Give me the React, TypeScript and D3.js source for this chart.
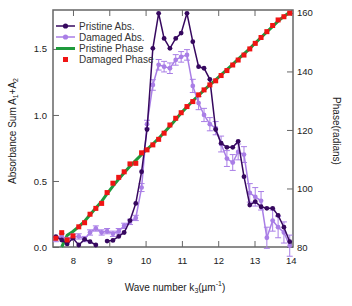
import React, { useEffect, useRef } from 'react';
import * as d3 from 'd3';

// wave number grid (k3, um^-1)
const waveNumber = [
  7.53, 7.69, 7.84, 8.0, 8.16, 8.32, 8.47, 8.63, 8.79, 8.94, 9.1, 9.26, 9.41, 9.57,
  9.73, 9.89, 10.04, 10.2, 10.36, 10.51, 10.67, 10.83, 10.98, 11.14, 11.3, 11.46,
  11.61, 11.77, 11.93, 12.08, 12.24, 12.4, 12.55, 12.71, 12.87, 13.02, 13.18, 13.34,
  13.5, 13.65, 13.81, 13.97,
];

const pristineAbs = [
  0.078, 0.053, 0.023, 0.066, 0.015, 0.058, 0.04, 0.015, null, 0.045, 0.05, 0.08,
  0.11, 0.2, 0.33, 0.57, 0.89, 1.505, 1.77, 1.58, 1.505, 1.58, 1.62, 1.77, 1.555,
  1.366, 1.354, 1.27, 0.89, 0.786, 0.755, 0.755, 0.8, 0.533, 0.318, 0.343, 0.305,
  0.293, 0.293, 0.24, 0.15, 0.04,
];

const damagedAbs = [
  0.06, 0.083, 0.053, 0.078, 0.08, 0.06, 0.11, 0.14, 0.11, 0.12, 0.1, 0.12, 0.16,
  0.19, 0.22, 0.45, 0.93, 1.227, 1.38, 1.366, 1.354, 1.417, 1.44, 1.455, 1.22, 1.09,
  1.0, 0.93, 0.9, 0.78, 0.67, 0.64, 0.72, 0.7, 0.41, 0.38, 0.35, 0.07, 0.2, 0.15,
  0.11, 0.01,
];

const damagedErr = [
  0.02, 0.02, 0.02, 0.02, 0.02, 0.02, 0.02, 0.02, 0.02, 0.02, 0.02, 0.02, 0.02,
  0.02, 0.02, 0.03, 0.03, 0.04, 0.04, 0.04, 0.04, 0.04, 0.04, 0.04, 0.05, 0.05,
  0.05, 0.05, 0.05, 0.06, 0.06, 0.06, 0.06, 0.06, 0.07, 0.07, 0.07, 0.08, 0.08,
  0.08, 0.08, 0.08,
];

const pristinePhase = [
  null, 80.0, 84.0, 85.3, 87.0, 88.8, 91.0, 93.3, 95.6, 98.2, 100.8, 103.2, 105.4,
  107.6, 109.6, 111.6, 113.4, 115.2, 117.1, 119.1, 121.3, 123.6, 125.8, 127.9, 129.9,
  131.8, 133.6, 135.4, 137.1, 138.8, 140.6, 142.4, 144.2, 146.0, 147.8, 149.7, 151.6,
  153.5, 155.4, 157.2, 158.8, 160.2,
];

const damagedPhase = [
  83.0, 84.9, 82.4, 83.8, 86.9, 88.3, 91.2, 93.2, 94.9, 98.6, 101.8, 103.8, 105.7,
  108.4, 108.6, 112.2, 113.2, 114.9, 116.8, 118.9, 121.7, 124.0, 125.9, 128.0, 129.7,
  132.0, 133.7, 135.4, 136.8, 138.6, 140.3, 142.2, 143.9, 145.6, 147.7, 149.6, 151.6,
  153.6, 155.7, 157.6, 158.7, 159.9,
];

const absTicks = [0, 0.5, 1.0, 1.5];
const phaseTicks = [80, 100, 120, 140, 160];
const kTicks = [8, 9, 10, 11, 12, 13, 14];

const DARK = '#36085f';
const LIGHT = '#a97ee6';
const GREEN = '#1e9a3c';
const RED = '#f01414';
const AXIS = '#666';
const FONT = '"Liberation Sans", Arial, sans-serif';

const App = () => {
  const svgRef = useRef(null);

  useEffect(() => {
    const left = 53;
    const right = 293;
    const top = 10;
    const bottom = 247;

    const svg = d3.select(svgRef.current);
    svg.selectAll('*').remove();

    const x = d3.scaleLinear().domain([7.45, 14.06]).range([left, right]);
    const yA = d3.scaleLinear().domain([0, 1.795]).range([bottom, top]);
    const yP = d3.scaleLinear().domain([80, 161]).range([bottom, top]);

    // axes, ticks pointing inward
    const styleAxis = (g) => {
      g.select('.domain').remove();
      g.selectAll('line').attr('stroke', AXIS);
      g.selectAll('text').attr('fill', '#222').attr('font-size', 9.5).attr('font-family', FONT);
    };

    svg
      .append('g')
      .attr('transform', `translate(${left},0)`)
      .call(d3.axisLeft(yA).tickValues(absTicks).tickFormat(d3.format('.1f')).tickSize(-6).tickPadding(6))
      .call(styleAxis);

    svg
      .append('g')
      .attr('transform', `translate(${right},0)`)
      .call(d3.axisRight(yP).tickValues(phaseTicks).tickFormat(d3.format('d')).tickSize(-6).tickPadding(4))
      .call(styleAxis);

    svg
      .append('g')
      .attr('transform', `translate(0,${bottom})`)
      .call(d3.axisBottom(x).tickValues(kTicks).tickFormat(d3.format('d')).tickSize(-6).tickPadding(10))
      .call(styleAxis);

    svg
      .append('g')
      .attr('transform', `translate(0,${top})`)
      .call(d3.axisTop(x).tickValues(kTicks).tickSize(-6).tickFormat(() => ''))
      .call(styleAxis);

    // frame
    svg
      .append('rect')
      .attr('x', left)
      .attr('y', top)
      .attr('width', right - left)
      .attr('height', bottom - top)
      .attr('fill', 'none')
      .attr('stroke', AXIS)
      .attr('stroke-width', 1.5);

    const rows = waveNumber.map((k, i) => ({
      k,
      pa: pristineAbs[i],
      da: damagedAbs[i],
      de: damagedErr[i],
      pp: pristinePhase[i],
      dp: damagedPhase[i],
    }));

    // pristine phase line
    svg
      .append('path')
      .datum(rows.filter((d) => d.pp != null))
      .attr('fill', 'none')
      .attr('stroke', GREEN)
      .attr('stroke-width', 3)
      .attr(
        'd',
        d3
          .line()
          .x((d) => x(d.k))
          .y((d) => yP(d.pp))
      );

    // damaged abs with error bars
    const errG = svg.append('g').attr('stroke', LIGHT).attr('stroke-width', 1);
    rows.forEach((d) => {
      const cx = x(d.k);
      const y1 = yA(d.da - d.de);
      const y2 = yA(d.da + d.de);
      errG.append('line').attr('x1', cx).attr('x2', cx).attr('y1', y1).attr('y2', y2);
      errG.append('line').attr('x1', cx - 3).attr('x2', cx + 3).attr('y1', y1).attr('y2', y1);
      errG.append('line').attr('x1', cx - 3).attr('x2', cx + 3).attr('y1', y2).attr('y2', y2);
    });

    svg
      .append('path')
      .datum(rows)
      .attr('fill', 'none')
      .attr('stroke', LIGHT)
      .attr('stroke-width', 1.5)
      .attr(
        'd',
        d3
          .line()
          .x((d) => x(d.k))
          .y((d) => yA(d.da))
      );

    svg
      .append('g')
      .selectAll('circle')
      .data(rows)
      .enter()
      .append('circle')
      .attr('cx', (d) => x(d.k))
      .attr('cy', (d) => yA(d.da))
      .attr('r', 2.4)
      .attr('fill', LIGHT);

    // pristine abs
    svg
      .append('path')
      .datum(rows)
      .attr('fill', 'none')
      .attr('stroke', DARK)
      .attr('stroke-width', 1.5)
      .attr(
        'd',
        d3
          .line()
          .defined((d) => d.pa != null)
          .x((d) => x(d.k))
          .y((d) => yA(d.pa))
      );

    svg
      .append('g')
      .selectAll('circle')
      .data(rows.filter((d) => d.pa != null))
      .enter()
      .append('circle')
      .attr('cx', (d) => x(d.k))
      .attr('cy', (d) => yA(d.pa))
      .attr('r', 2.4)
      .attr('fill', DARK);

    // damaged phase squares
    svg
      .append('g')
      .selectAll('rect')
      .data(rows)
      .enter()
      .append('rect')
      .attr('x', (d) => x(d.k) - 2.5)
      .attr('y', (d) => yP(d.dp) - 2.5)
      .attr('width', 5)
      .attr('height', 5)
      .attr('fill', RED);

    // legend
    const legend = svg.append('g').attr('font-family', FONT).attr('font-size', 10).attr('fill', '#333');
    const legendRows = [
      { label: 'Pristine Abs.', y: 26, kind: 'dark' },
      { label: 'Damaged Abs.', y: 37, kind: 'light' },
      { label: 'Pristine Phase', y: 48.5, kind: 'green' },
      { label: 'Damaged Phase', y: 59.5, kind: 'red' },
    ];
    legendRows.forEach((r) => {
      if (r.kind === 'dark' || r.kind === 'light') {
        const c = r.kind === 'dark' ? DARK : LIGHT;
        legend.append('line').attr('x1', 56).attr('x2', 75).attr('y1', r.y).attr('y2', r.y).attr('stroke', c).attr('stroke-width', 1.5);
        legend.append('circle').attr('cx', 65.5).attr('cy', r.y).attr('r', 2.6).attr('fill', c);
      } else if (r.kind === 'green') {
        legend.append('line').attr('x1', 56).attr('x2', 75).attr('y1', r.y).attr('y2', r.y).attr('stroke', GREEN).attr('stroke-width', 3);
      } else {
        legend.append('rect').attr('x', 63).attr('y', r.y - 2.5).attr('width', 5).attr('height', 5).attr('fill', RED);
      }
      legend.append('text').attr('x', 79).attr('y', r.y + 3.5).text(r.label);
    });

    // axis titles
    const leftTitle = svg
      .append('text')
      .attr('transform', 'translate(16,131) rotate(-90)')
      .attr('text-anchor', 'middle')
      .attr('font-family', FONT)
      .attr('font-size', 10)
      .attr('fill', '#222');
    leftTitle.append('tspan').text('Absorbance Sum A');
    leftTitle.append('tspan').attr('font-size', 7).attr('dy', 2).text('1');
    leftTitle.append('tspan').attr('dy', -2).text('+A');
    leftTitle.append('tspan').attr('font-size', 7).attr('dy', 2).text('2');

    svg
      .append('text')
      .attr('transform', 'translate(333,131) rotate(90)')
      .attr('text-anchor', 'middle')
      .attr('font-family', FONT)
      .attr('font-size', 10)
      .attr('fill', '#222')
      .text('Phase(radians)');

    const bottomTitle = svg
      .append('text')
      .attr('x', 175)
      .attr('y', 291)
      .attr('text-anchor', 'middle')
      .attr('font-family', FONT)
      .attr('font-size', 10)
      .attr('fill', '#222');
    bottomTitle.append('tspan').text('Wave number k');
    bottomTitle.append('tspan').attr('font-size', 7).attr('dy', 2).text('3');
    bottomTitle.append('tspan').attr('dy', -2).text('(\u00b5m');
    bottomTitle.append('tspan').attr('font-size', 7).attr('dy', -5).text('-1');
    bottomTitle.append('tspan').attr('dy', 5).text(')');
  }, []);

  return (
    <svg
      ref={svgRef}
      width={352}
      height={306}
      style={{ position: 'absolute', left: 0, top: 0, background: '#fff' }}
    ></svg>
  );
};

export default App;
